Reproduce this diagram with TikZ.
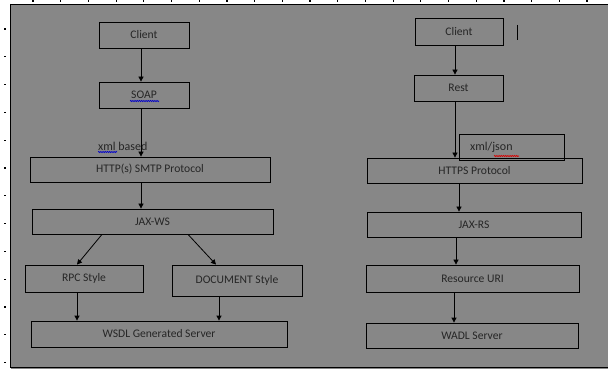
\documentclass[tikz,border=0pt]{standalone}
\usepackage{fontspec}
\setmainfont{Carlito}
\usetikzlibrary{arrows.meta,decorations.pathmorphing}

\tikzset{
  box/.style={draw=black, line width=0.8pt, inner sep=0pt, font=\fontsize{11.6}{13}\selectfont, text=black!85},
  arr/.style={draw=black, line width=0.8pt, -{Triangle[width=5pt,length=5pt]}},
  plain/.style={inner sep=0pt, font=\fontsize{12}{13}\selectfont, text=black!85},
  squiggle/.style={line width=0.7pt, decorate, decoration={snake, amplitude=0.6pt, segment length=2.2pt}},
}

\begin{document}
\begin{tikzpicture}[x=1pt, y=-1pt]
  % page area and background
  \useasboundingbox (0,0) rectangle (608,374);
  \fill[white] (0,0) rectangle (608,374);
  \fill[black!47] (11,5) rectangle (608,369);
  \draw[black, line width=0.7pt] (10,4) -- (608,4);
  \draw[black, line width=0.7pt] (10,4) -- (10,367) -- (608,367);
  % ruler ticks
  \foreach \i in {0,...,20} {
    \fill[black] ({33+27.7*\i-0.6},0.5) rectangle ({33+27.7*\i+0.6},2);
  }
  \foreach \j in {0,...,12} {
    \fill[black] (4.4,{29+27.8*\j-0.6}) rectangle (5.6,{29+27.8*\j+0.6});
  }

  % ---------- SOAP / JAX-WS stack ----------
  \node[box, minimum width=90pt, minimum height=26pt] (lclient) at (144,35) {Client};
  \node[box, minimum width=90pt, minimum height=26pt] (soap) at (144,95) {SOAP};
  \node[box, minimum width=240pt, minimum height=25pt] (http) at (150,169.5) {HTTP(s) SMTP Protocol};
  \node[box, minimum width=241pt, minimum height=25pt] (jaxws) at (152.5,221.5) {JAX-WS};
  \node[box, minimum width=118pt, minimum height=27pt] (rpc) at (84,278.5) {RPC Style};
  \node[box, minimum width=130pt, minimum height=31pt] (doc) at (237,280.5) {DOCUMENT Style};
  \node[box, minimum width=256pt, minimum height=26pt] (wsdl) at (159,334) {WSDL Generated Server};
  \node[plain, anchor=west] (xmlbased) at (98,146) {xml based};

  \coordinate (c1) at (141,0);
  \coordinate (c2) at (102,0);
  \coordinate (c3) at (77,0);
  \coordinate (c4) at (188,0);
  \coordinate (c5) at (216,0);
  \coordinate (c6) at (219,0);

  \draw[arr] (lclient.south -| c1) -- (soap.north -| c1);
  \draw[arr] (soap.south -| c1) -- (http.north -| c1);
  \draw[arr] (http.south -| c1) -- (jaxws.north -| c1);
  \draw[arr] (jaxws.south -| c2) -- (rpc.north -| c3);
  \draw[arr] (jaxws.south -| c4) -- (doc.north -| c5);
  \draw[arr] (rpc.south -| c3) -- (wsdl.north -| c3);
  \draw[arr] (doc.south -| c6) -- (wsdl.north -| c6);

  % spell-check marks
  \draw[squiggle, blue!80!black] (130,101) -- (159,101);
  \draw[squiggle, blue!80!black] (98,152) -- (117,152);

  % ---------- REST / JAX-RS stack ----------
  \node[box, minimum width=88pt, minimum height=27pt] (rclient) at (459,31.5) {Client};
  \node[box, minimum width=89pt, minimum height=26pt] (rest) at (458.5,88) {Rest};
  \node[box, minimum width=105pt, minimum height=26pt] (json) at (511.5,147) {};
  \node[plain, anchor=west] (jsontext) at (470,147) {xml/json};
  \node[box, minimum width=215pt, minimum height=25pt] (https) at (474.5,170.5) {HTTPS Protocol};
  \node[box, minimum width=214pt, minimum height=25pt] (jaxrs) at (474,224.5) {JAX-RS};
  \node[box, minimum width=213pt, minimum height=27pt] (resuri) at (472.5,278.5) {Resource URI};
  \node[box, minimum width=212pt, minimum height=25pt] (wadl) at (472,335.5) {WADL Server};

  \coordinate (r1) at (455,0);
  \coordinate (r2) at (459,0);
  \coordinate (r3) at (456,0);
  \coordinate (r4) at (454,0);

  \draw[arr] (rclient.south -| r1) -- (rest.north -| r1);
  \draw[arr] (rest.south -| r1) -- (https.north -| r1);
  \draw[arr] (https.south -| r2) -- (jaxrs.north -| r2);
  \draw[arr] (jaxrs.south -| r3) -- (resuri.north -| r3);
  \draw[arr] (resuri.south -| r4) -- (wadl.north -| r4);

  \draw[squiggle, red!85!black] (494,156) -- (519,156);
  \coordinate (mark) at (517,25);
  \draw[black, line width=0.8pt] (mark) -- ++(0,15);
\end{tikzpicture}
\end{document}
